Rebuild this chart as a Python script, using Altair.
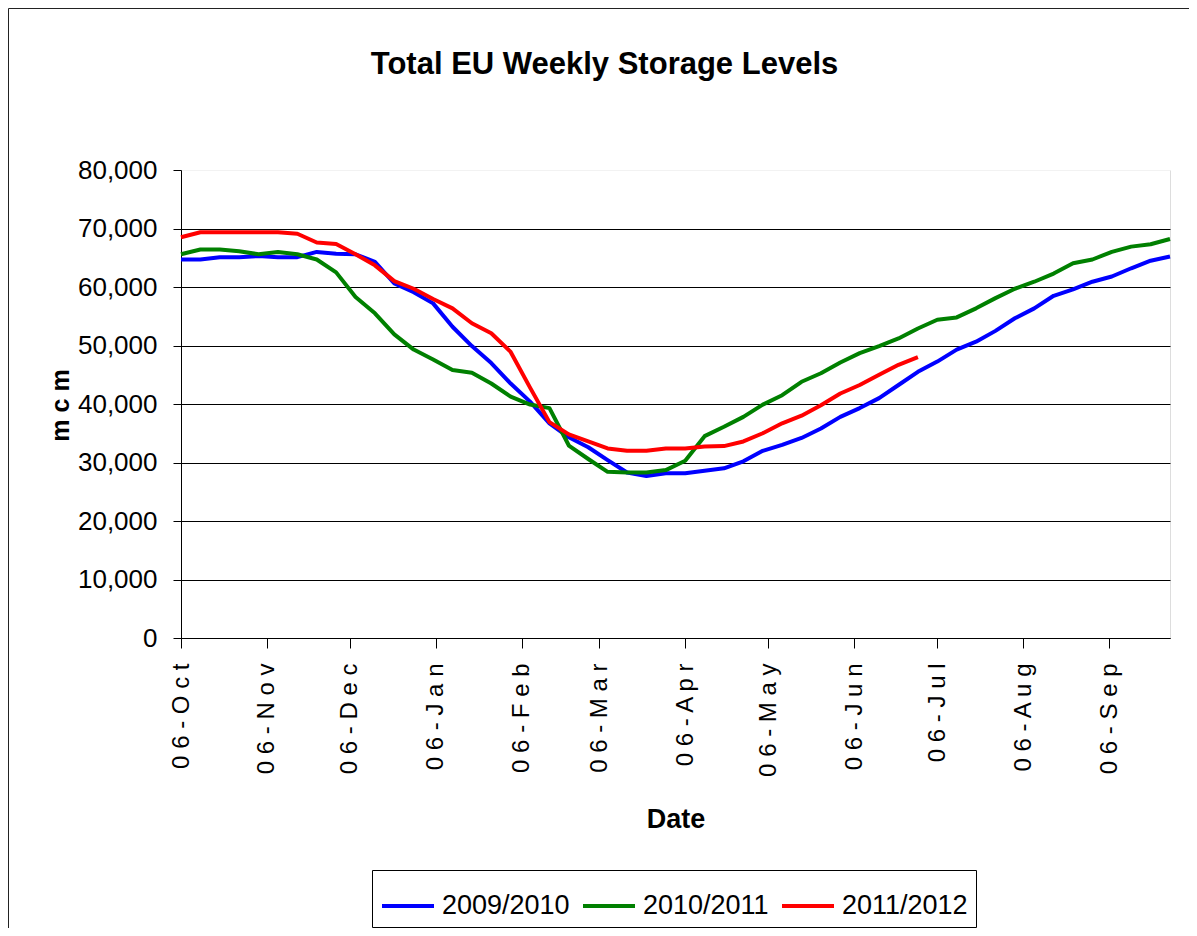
import altair as alt
import pandas as pd

# ---- data (mcm), weekly from 06-Oct ----
series_names = ["2009/2010", "2010/2011", "2011/2012"]
series_colors = ["#0000FF", "#008000", "#FF0000"]

s_2009_2010 = [64700, 64700, 65100, 65100, 65300, 65100, 65100, 66000, 65700, 65600,
               64300, 60600, 59100, 57200, 53200, 49900, 47000, 43500, 40400, 36700,
               34300, 32600, 30400, 28300, 27700, 28150, 28150, 28600, 29000, 30200,
               32000, 33000, 34200, 35800, 37800, 39300, 41000, 43250, 45500, 47250,
               49300, 50650, 52500, 54650, 56350, 58500, 59600, 60900, 61800, 63200,
               64500, 65200]
s_2010_2011 = [65600, 66400, 66400, 66100, 65600, 66000, 65600, 64700, 62500, 58300,
               55500, 51900, 49300, 47600, 45800, 45350, 43500, 41250, 39900, 39300,
               32900, 30600, 28400, 28300, 28300, 28700, 30300, 34500, 36100, 37800,
               39900, 41500, 43800, 45250, 47100, 48700, 49900, 51200, 52900, 54400,
               54800, 56350, 58100, 59700, 60900, 62300, 64050, 64700, 66000, 66900,
               67300, 68200]
s_2011_2012 = [68500, 69350, 69350, 69350, 69350, 69350, 69100, 67600, 67350, 65600,
               63700, 61000, 59700, 57950, 56350, 53800, 52100, 48900, 42800, 36900,
               34800, 33600, 32400, 32000, 32000, 32400, 32400, 32750, 32800, 33600,
               35000, 36700, 38000, 39800, 41800, 43250, 45000, 46700, 48000]

week_dates = list(pd.date_range("2010-10-06", periods=52, freq="7D").strftime("%Y-%m-%d"))
tick_months = [(2010, 10), (2010, 11), (2010, 12), (2011, 1), (2011, 2), (2011, 3),
               (2011, 4), (2011, 5), (2011, 6), (2011, 7), (2011, 8), (2011, 9)]
y_ticks = [0, 10000, 20000, 30000, 40000, 50000, 60000, 70000, 80000]

all_series = [s_2009_2010, s_2010_2011, s_2011_2012]
rows = []
for name, vals in zip(series_names, all_series):
    for d, v in zip(week_dates, vals):
        rows.append({"date": d, "value": v, "season": name})
df = pd.DataFrame(rows)

W, H = 989, 468
FONT = "Liberation Sans, Arial"

tick_vals = [alt.DateTime(year=y, month=m, date=6, utc=True) for y, m in tick_months]

lines = alt.Chart(df).mark_line(strokeWidth=4, strokeJoin="round").encode(
    x=alt.X(
        "date:T",
        scale=alt.Scale(type="utc",
                        domain=[alt.DateTime(year=2010, month=10, date=6, utc=True),
                                alt.DateTime(year=2011, month=9, date=28, utc=True)]),
        axis=alt.Axis(
            title="Date", values=tick_vals,
            labelExpr="join(split(utcFormat(datum.value, '%d-%b'), ''), ' ')",
            labelAngle=270, labelFont=FONT, labelFontSize=24, labelColor="black",
            labelPadding=15, labelFlush=False, labelOverlap=False,
            tickSize=10, tickColor="black", domainColor="black", grid=False,
            titleFont=FONT, titleFontSize=27, titleFontWeight="bold", titleColor="black",
            titleBaseline="alphabetic", titleX=494.5, titleY=189,
        ),
    ),
    y=alt.Y(
        "value:Q",
        scale=alt.Scale(domain=[0, 80000], nice=False),
        axis=alt.Axis(
            title="m c m", values=y_ticks, format=",.0f",
            labelFont=FONT, labelFontSize=26, labelColor="black", labelPadding=16,
            tickSize=8, tickColor="black", domainColor="black",
            gridColor=alt.condition("datum.value == 80000", alt.value("#f2f2f2"), alt.value("black")),
            gridWidth=1,
            titleFont=FONT, titleFontSize=25, titleFontWeight="bold", titleColor="black",
            titleBaseline="alphabetic", titleX=-113, titleY=235,
        ),
    ),
    color=alt.Color(
        "season:N",
        scale=alt.Scale(domain=series_names, range=series_colors),
        legend=alt.Legend(
            title=None, orient="none", legendX=191, legendY=700, direction="horizontal",
            symbolType="stroke", symbolSize=2704, symbolStrokeWidth=4,
            labelFont=FONT, labelFontSize=27, labelColor="black", labelOffset=6,
            columnPadding=5, padding=8, strokeColor="black", fillColor="white",
            labelLimit=0,
        ),
    ),
)

frame_df = pd.DataFrame({"k": [0]})
top_border = alt.Chart(frame_df).mark_rule(color="#222222", strokeWidth=1).encode(
    x=alt.value(-172.5), x2=alt.value(W + 40), y=alt.value(-161.5))
left_border = alt.Chart(frame_df).mark_rule(color="#222222", strokeWidth=1).encode(
    x=alt.value(-172.5), y=alt.value(-161.5), y2=alt.value(H + 320))

chart = alt.layer(lines, top_border, left_border).properties(
    width=W, height=H,
    autosize=alt.AutoSizeParams(type="none"),
    padding={"left": 173, "top": 162, "right": 19, "bottom": 290},
    title=alt.Title("Total EU Weekly Storage Levels", font=FONT, fontSize=31,
                    fontWeight="bold", color="black", anchor="middle", dx=-71,
                    offset=0, dy=97, baseline="alphabetic"),
).configure_view(stroke=None).configure(background="white")

chart.save("out.html", embed_options={"renderer": "svg", "actions": False})
